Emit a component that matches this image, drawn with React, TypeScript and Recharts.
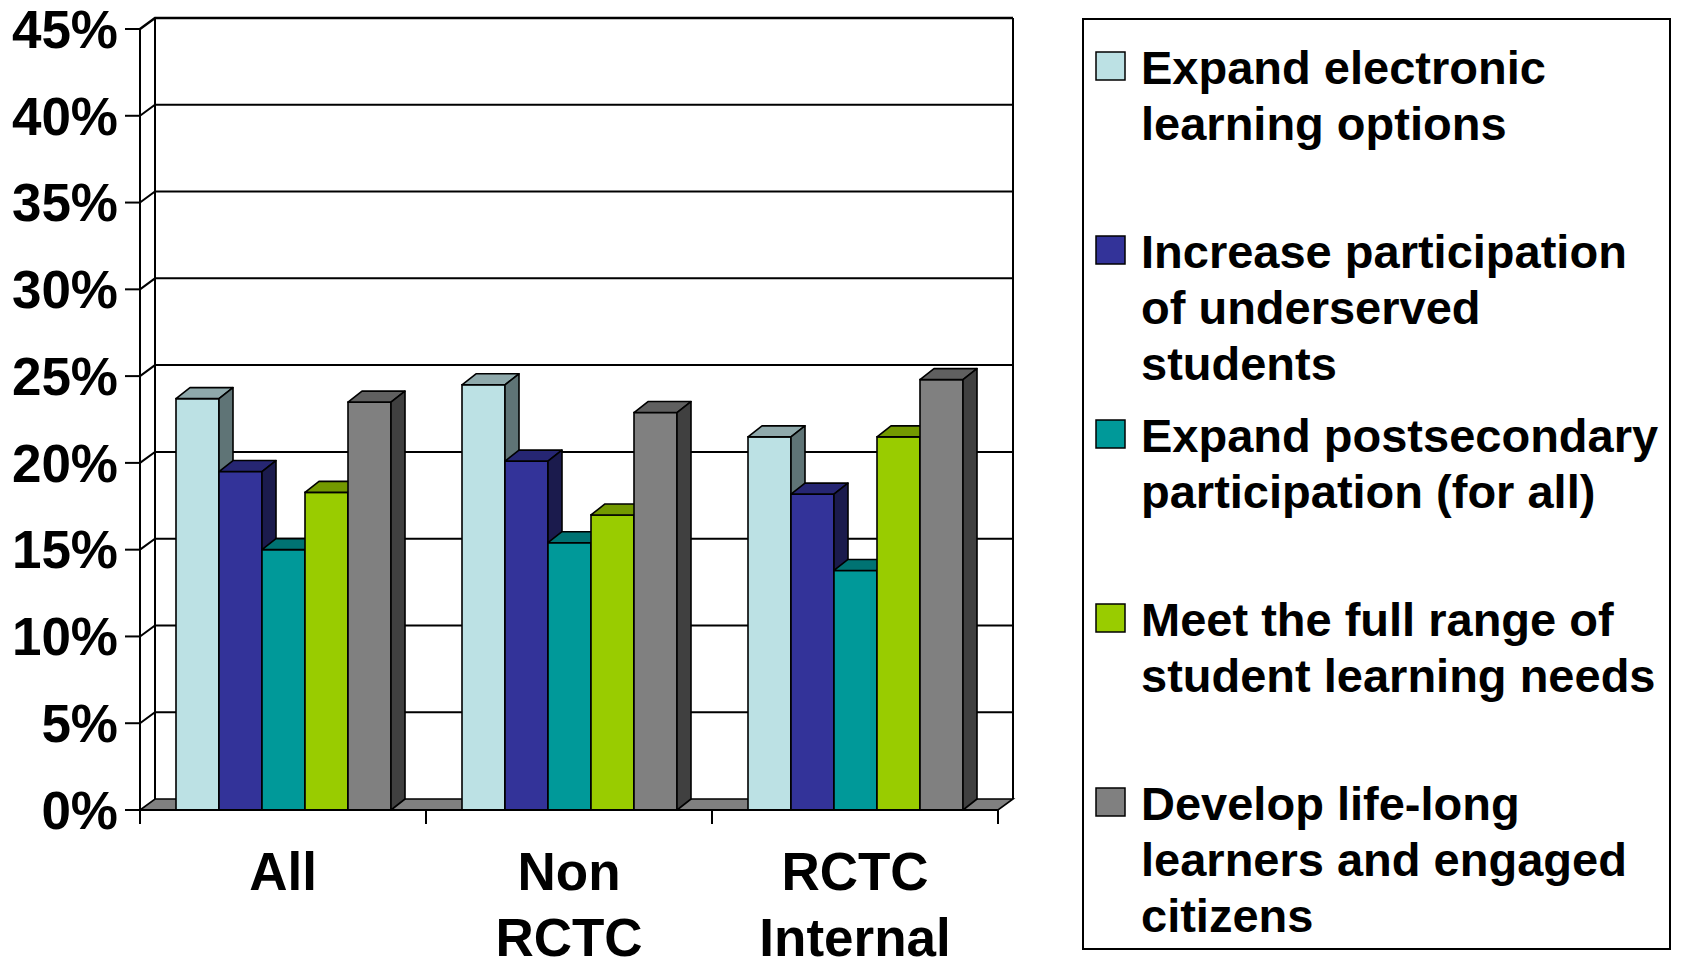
import React from 'react';
import { BarChart, Bar, XAxis, YAxis, CartesianGrid, Legend } from 'recharts';

// ---------- data ----------
const categories = ['All', 'Non RCTC', 'RCTC Internal'];
const expandElectronic = [23.7, 24.5, 21.5];
const increaseUnderserved = [19.5, 20.1, 18.2];
const expandPostsecondary = [15.0, 15.4, 13.8];
const meetFullRange = [18.3, 17.0, 21.5];
const developLifelong = [23.5, 22.9, 24.8];
const yTicks = [0, 5, 10, 15, 20, 25, 30, 35, 40, 45];

const seriesNames = [
  'Expand electronic learning options',
  'Increase participation of underserved students',
  'Expand postsecondary participation (for all)',
  'Meet the full range of student learning needs',
  'Develop life-long learners and engaged citizens',
];
const legendLines = [
  ['Expand electronic', 'learning options'],
  ['Increase participation', 'of underserved', 'students'],
  ['Expand postsecondary', 'participation (for all)'],
  ['Meet the full range of', 'student learning needs'],
  ['Develop life-long', 'learners and engaged', 'citizens'],
];
const seriesValues = [expandElectronic, increaseUnderserved, expandPostsecondary, meetFullRange, developLifelong];
const seriesKeys = ['s1', 's2', 's3', 's4', 's5'];

// front, top, side colours
const seriesColors = [
  ['#BCE1E4', '#8FA9AB', '#5F7476'],
  ['#333399', '#262673', '#1B1B4D'],
  ['#009999', '#007373', '#004D4D'],
  ['#99CC00', '#739900', '#4D6600'],
  ['#808080', '#606060', '#404040'],
];

const data = categories.map((c, i) => {
  const row: any = { name: c };
  seriesKeys.forEach((k, j) => { row[k] = seriesValues[j][i]; });
  return row;
});

// ---------- layout ----------
const W = 1683;
const H = 962;
const PLOT_LEFT = 140;
const PLOT_TOP = 29;
const PLOT_RIGHT = 998;
const PLOT_BOTTOM = 810;
const BAND = (PLOT_RIGHT - PLOT_LEFT) / categories.length;
const WALL_DX = 15;
const WALL_DY = 11;
const BAR_DX = 14;
const BAR_DY = 11;
const FONT = '"Liberation Sans", Arial, Helvetica, sans-serif';

const makeShape = (idx: number) => (props: any) => {
  const { x, y, width, height } = props;
  const [front, top, side] = seriesColors[idx];
  const sw = 1.6;
  return (
    <g>
      <rect x={x} y={y} width={width} height={height} fill={front} stroke="#000" strokeWidth={sw} />
      <polygon
        points={`${x},${y} ${x + BAR_DX},${y - BAR_DY} ${x + width + BAR_DX},${y - BAR_DY} ${x + width},${y}`}
        fill={top}
        stroke="#000"
        strokeWidth={sw}
        strokeLinejoin="round"
      />
      <polygon
        points={`${x + width},${y} ${x + width + BAR_DX},${y - BAR_DY} ${x + width + BAR_DX},${y + height - BAR_DY} ${x + width},${y + height}`}
        fill={side}
        stroke="#000"
        strokeWidth={sw}
        strokeLinejoin="round"
      />
    </g>
  );
};

const GridLine = (props: any) => {
  const { x1, y1, x2 } = props;
  const y = y1;
  const isFloor = Math.abs(y - PLOT_BOTTOM) < 1.5;
  const isTop = Math.abs(y - PLOT_TOP) < 1.5;
  return (
    <g>
      {isFloor && (
        <g>
          <line x1={x1 + WALL_DX} y1={y - WALL_DY} x2={x1 + WALL_DX} y2={PLOT_TOP - WALL_DY} stroke="#000" strokeWidth={2} />
          <line x1={x2 + WALL_DX} y1={y - WALL_DY} x2={x2 + WALL_DX} y2={PLOT_TOP - WALL_DY} stroke="#000" strokeWidth={2} />
          <polygon
            points={`${x1},${y} ${x2},${y} ${x2 + WALL_DX},${y - WALL_DY} ${x1 + WALL_DX},${y - WALL_DY}`}
            fill="#808080"
            stroke="#000"
            strokeWidth={1.6}
          />
        </g>
      )}
      {!isFloor && (
        <polyline
          points={`${x1},${y} ${x1 + WALL_DX},${y - WALL_DY} ${x2 + WALL_DX},${y - WALL_DY}`}
          fill="none"
          stroke="#000"
          strokeWidth={isTop ? 2.5 : 2}
        />
      )}
    </g>
  );
};

const XTick = (props: any) => {
  const { x, payload, index } = props;
  const lines = String(payload.value).split(' ');
  return (
    <g>
      <line x1={x - BAND / 2} y1={PLOT_BOTTOM} x2={x - BAND / 2} y2={PLOT_BOTTOM + 14} stroke="#000" strokeWidth={2} />
      {index === categories.length - 1 && (
        <line x1={x + BAND / 2} y1={PLOT_BOTTOM} x2={x + BAND / 2} y2={PLOT_BOTTOM + 14} stroke="#000" strokeWidth={2} />
      )}
      <text textAnchor="middle" fontFamily={FONT} fontWeight="bold" fontSize={53} fill="#000">
        {lines.map((l, i) => (
          <tspan key={i} x={x} y={PLOT_BOTTOM + 80 + i * 66}>{l}</tspan>
        ))}
      </text>
    </g>
  );
};

const LEG_W = 589;
const LEG_H = 932;
const renderLegend = () => (
  <svg width={LEG_W} height={LEG_H} style={{ display: 'block' }}>
    <rect x={1} y={1} width={LEG_W - 2} height={LEG_H - 2} fill="#fff" stroke="#000" strokeWidth={2} />
    {legendLines.map((lines, i) => (
      <g key={i}>
        <rect x={14} y={34 + i * 184} width={29} height={28} fill={seriesColors[i][0]} stroke="#000" strokeWidth={1.5} />
        <text fontFamily={FONT} fontWeight="bold" fontSize={47} fill="#000">
          {lines.map((l, j) => (
            <tspan key={j} x={59} y={66 + i * 184 + j * 56}>{l}</tspan>
          ))}
        </text>
      </g>
    ))}
  </svg>
);

export default function App() {
  return (
    <div style={{ position: 'absolute', left: 0, top: 0, width: W, height: H, background: '#fff' }}>
      <BarChart
        width={W}
        height={H}
        data={data}
        margin={{ top: PLOT_TOP, right: W - PLOT_RIGHT, bottom: H - PLOT_BOTTOM - 140, left: 0 }}
        barGap={0}
        barSize={43}
      >
        <CartesianGrid horizontal={GridLine as any} vertical={false} stroke="#000" />
        <XAxis
          dataKey="name"
          height={140}
          axisLine={{ stroke: '#000', strokeWidth: 2 }}
          tickLine={false}
          tick={<XTick />}
          interval={0}
        />
        <YAxis
          width={PLOT_LEFT}
          domain={[0, 45]}
          ticks={yTicks}
          interval={0}
          tickFormatter={(v: number) => `${v}%`}
          axisLine={{ stroke: '#000', strokeWidth: 2 }}
          tickLine={{ stroke: '#000', strokeWidth: 2 }}
          tickSize={15}
          tickMargin={7}
          tick={{ fontFamily: FONT, fontWeight: 'bold', fontSize: 53, fill: '#000' }}
        />
        <Legend
          layout="vertical"
          align="center"
          verticalAlign="middle"
          content={renderLegend}
          wrapperStyle={{ left: 1082, top: 18, width: LEG_W, height: LEG_H }}
        />
        {seriesKeys.map((k, i) => (
          <Bar
            key={k}
            dataKey={k}
            name={seriesNames[i]}
            fill={seriesColors[i][0]}
            shape={makeShape(i)}
            isAnimationActive={false}
          />
        ))}
      </BarChart>
    </div>
  );
}
